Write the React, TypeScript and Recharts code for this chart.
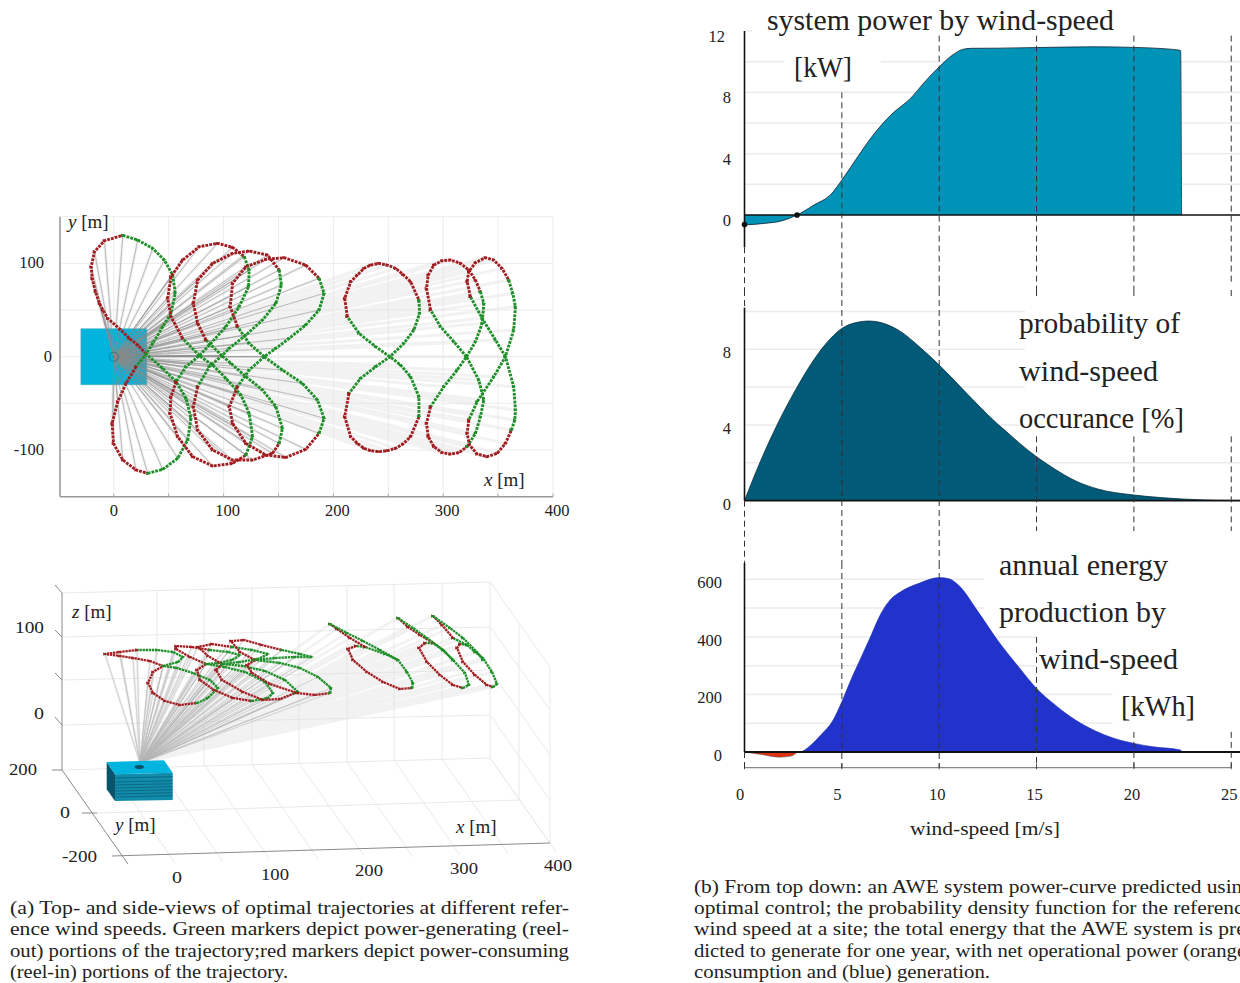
import React from 'react';
import { ScatterChart, Scatter, ComposedChart, Area, XAxis, YAxis, CartesianGrid, ReferenceLine, ReferenceArea, ReferenceDot } from 'recharts';

// ---------- top view: [x m, y m, phase] with phase 0 = reel-in, 1 = reel-out
const topLoop1 = [[29.4,2.9,1],[21.8,12.5,0],[14.2,19.6,0],[5.8,29.3,0],[-5.5,41,0],[-10,50,0],[-13,57,0],[-16.7,69.6,0],[-19.7,83.9,0],[-20.6,96.4,0],[-17.6,112.5,0],[-8.5,124.3,0],[8.2,130,0],[21.8,125,1],[35.5,116,1],[46,103.6,1],[53.6,87.5,1],[56,67.9,1],[52,46.4,1],[44.5,32,1],[35.5,14.3,1],[29.4,2.9,1],[20.3,-10.7,1],[11.2,-28.6,0],[3.6,-48.2,0],[-1.5,-71.4,0],[-0.3,-92.9,0],[8.2,-110.7,0],[20.3,-121.4,0],[30.9,-125,0],[44.5,-120.7,1],[58.2,-108.9,1],[67.3,-89.3,1],[70.3,-66,1],[65.8,-44.6,1],[56.7,-26.8,1],[44.5,-12.5,1],[29.4,2.9,1]];
const topLoop2 = [[77.9,1.1,1],[62.7,19.6,1],[52.1,42.9,0],[49.1,62.5,0],[52.1,85.7,0],[62.7,103.6,0],[77.9,117.9,0],[94.5,121.4,0],[108.2,117.1,0],[118.8,107.1,0],[123.3,92.9,1],[122.7,75,1],[114.2,53.6,1],[102.1,32.1,1],[87,12.5,1],[77.9,1.1,1],[65.8,-10.7,1],[56.7,-26.8,1],[52.1,-42.9,0],[51.2,-60.7,0],[58.2,-85.7,0],[71.8,-107.1,0],[90,-117.1,0],[108.2,-114.3,0],[120.3,-105.4,0],[126.4,-85.7,1],[123.3,-60.7,1],[115.8,-41.1,1],[102.1,-23.2,1],[90,-8.9,1],[77.9,1.1,1]];
const topLoop3 = [[98.5,1.1,1],[83.9,17.9,1],[76.4,35.7,0],[72.4,57.1,0],[76.4,82.1,0],[90,100,0],[108.2,110.7,0],[123.3,113.2,0],[140,108.9,0],[150.6,92.9,0],[152.7,76.8,1],[147.6,57.1,1],[135.5,39.3,1],[120.3,23.2,1],[105.2,8.9,1],[98.5,1.1,1],[87,-10.7,1],[76.4,-32.1,1],[72.4,-53.6,0],[76.4,-78.6,0],[90,-100,0],[108.2,-110.7,0],[126.4,-110.7,0],[144.5,-103.6,0],[150.6,-92.9,0],[153.6,-76.8,1],[147.6,-53.6,1],[135.5,-35.7,1],[120.3,-21.4,1],[106.7,-7.1,1],[98.5,1.1,1]];
const topLoop4 = [[137,0,1],[123.3,14.3,1],[112.7,32.1,1],[106,53.6,0],[108.2,78.6,0],[120.3,96.4,0],[138.5,104.3,0],[155.2,106.1,0],[174.8,98.2,0],[187,83.9,0],[191.5,67.9,1],[187,50,1],[174.8,33.9,1],[159.7,19.6,1],[147.6,8.9,1],[137,0,1],[123.3,-14.3,1],[112.7,-32.1,1],[105.2,-53.6,0],[108.2,-71.4,0],[120.3,-92.9,0],[138.5,-105.4,0],[156.7,-107.9,0],[174.8,-99.3,0],[187,-82.1,0],[191.5,-66.1,1],[185.5,-46.4,1],[171.8,-28.6,1],[153.6,-14.3,1],[137,0,1]];
const topLoop5 = [[251.5,0,1],[238.5,10.7,1],[223.3,25,1],[212.7,42.9,1],[210.3,62.5,0],[215.8,80.4,0],[221.8,87.5,0],[227.9,94.6,0],[233.9,98.2,0],[241.5,100,0],[249.1,98.2,0],[256.7,94.6,0],[263.3,88.2,0],[270.3,80.4,0],[277.9,60.7,0],[278.5,46.4,1],[273.3,28.6,1],[264.2,14.3,1],[251.5,0,1],[238.5,-10.7,1],[224.8,-23.2,1],[214.2,-39.3,1],[210.3,-64.3,0],[215.8,-85.7,0],[221.8,-92.9,0],[227.9,-98.2,0],[233.9,-100.7,0],[241.5,-101.8,0],[249.1,-100.7,0],[256.7,-98.2,0],[263.3,-93.6,0],[270.3,-85.7,0],[277.9,-64.3,0],[277.9,-42.9,1],[270.3,-21.4,1],[261.2,-8.9,1],[251.5,0,1]];
const topLoop6 = [[321.2,0,1],[309.7,16.1,1],[297.6,32.1,1],[288.5,50,1],[284.8,73.2,0],[286.4,87.5,0],[291.5,98.2,0],[299.1,102.9,0],[306.7,103.6,0],[315.8,100,0],[323.3,92.9,0],[329.4,82.1,0],[333.9,69.6,0],[337,57.1,1],[335.5,35.7,1],[329.4,16.1,1],[321.2,0,1],[312.7,-14.3,1],[300.6,-32.1,1],[288.5,-53.6,1],[284.8,-71.4,0],[286.4,-85.7,0],[291.5,-96.4,0],[299.1,-102.9,0],[306.7,-104.3,0],[314.2,-102.9,0],[321.8,-96.4,0],[329.4,-82.1,1],[333.9,-64.3,1],[337,-46.4,1],[332.4,-25,1],[321.2,0,1]];
const topLoop7 = [[356.7,0,1],[347.6,17.9,1],[335.5,41.1,1],[324.8,64.3,1],[321.8,80.4,0],[323.3,91.1,0],[329.4,100.7,0],[338.5,106.1,0],[346.1,103.6,0],[353.6,94.6,0],[359.7,82.1,0],[363.3,67.9,1],[365.8,53.6,1],[364.2,28.6,1],[356.7,0,1],[346.1,-21.4,1],[330.9,-48.2,1],[323.3,-67.9,1],[321.8,-82.1,0],[323.9,-94.6,0],[330.9,-104.3,0],[340,-107.1,0],[349.1,-103.6,0],[356.7,-92.9,0],[362.1,-78.6,0],[365.2,-67.9,1],[365.8,-57.1,1],[364.2,-32.1,1],[356.7,0,1]];
const topLoops = [topLoop1, topLoop2, topLoop3, topLoop4, topLoop5, topLoop6, topLoop7];

// ---------- side view, read in the projected picture plane: [u, v, phase]
const sideLoop1 = [[163,666,1],[178,662,1],[183,657,1],[173,652,1],[157,650,1],[137,650,1],[120,652,0],[105,654,0],[120,656,0],[133,658,0],[150,661,0],[163,666,0],[153,672,0],[148,683,0],[153,693,0],[165,701,0],[180,705,0],[197,703,0],[208,698,1],[218,688,1],[210,680,1],[193,673,1],[177,668,1],[163,666,1]];
const sideLoop2 = [[206,664,1],[190,657,0],[176,649,0],[176,646,0],[192,647,0],[210,650,0],[228,652,1],[240,655,1],[232,660,1],[218,663,1],[206,664,1],[197,670,0],[200,680,0],[214,690,0],[233,698,0],[252,701,0],[268,698,1],[273,693,1],[265,682,1],[245,672,1],[225,667,1],[206,664,1]];
const sideLoop3 = [[222,664,1],[208,656,0],[198,647,0],[212,644,0],[232,647,0],[252,650,1],[268,654,1],[258,659,1],[240,662,1],[222,664,1],[216,670,0],[222,680,0],[243,692,0],[263,700,0],[280,699,0],[295,693,0],[298,692,1],[285,680,1],[265,671,1],[243,666,1],[222,664,1]];
const sideLoop4 = [[255,660,1],[240,652,0],[231,641,0],[244,640,0],[262,645,0],[282,650,0],[300,654,1],[312,657,1],[295,657,1],[275,658,1],[255,660,1],[247,665,0],[252,673,0],[270,684,0],[297,693,0],[315,695,0],[330,693,0],[331,688,1],[318,677,1],[300,668,1],[280,663,1],[255,660,1]];
const sideLoop5 = [[365,647,1],[356,646,1],[348,649,0],[353,660,0],[367,672,0],[383,682,0],[400,689,0],[412,688,0],[413,683,1],[407,672,1],[398,660,1],[385,654,1],[365,647,1],[350,638,0],[337,629,0],[330,624,0],[347,633,1],[363,641,1],[380,650,1],[398,660,1]];
const sideLoop6 = [[433,643,1],[425,643,1],[419,648,0],[427,662,0],[440,675,0],[453,685,0],[463,688,0],[469,685,1],[465,673,1],[453,660,1],[443,650,1],[433,643,1],[420,635,0],[408,627,0],[398,618,0],[413,628,1],[427,638,1],[443,650,1],[453,660,1]];
const sideLoop7 = [[467,645,1],[460,644,1],[457,648,0],[463,662,0],[475,675,0],[487,685,0],[493,687,0],[497,684,1],[492,672,1],[483,658,1],[475,652,1],[467,645,1],[453,638,1],[442,625,0],[433,616,0],[450,628,1],[463,638,1],[477,652,1],[483,660,1]];
const sideLoops = [sideLoop1, sideLoop2, sideLoop3, sideLoop4, sideLoop5, sideLoop6, sideLoop7];
const sideStation = [{ x: 140, y: 763 }];

// ---------- wind-speed curves
const powerWind = [0,1,2,2.7,3.5,4.5,5,5.87,6.6,7.5,8.6,9.2,10,10.65,11.2,11.65,13,15,18,20,21.5,22.4,22.45];
const powerKw = [-0.65,-0.55,-0.35,0,0.6,1.43,2.28,3.9,5.2,6.5,7.7,8.6,9.66,10.4,10.8,10.87,10.88,10.92,10.97,10.93,10.85,10.73,0];
const probWind = [0,0.81,1.71,2.62,3.52,4.42,5,5.69,6.41,7.13,8.03,8.94,10,10.92,12,13,13.45,14.17,15,15.97,17.06,18.14,20,21.57,23.4,25,25.45];
const probPct = [0,2.06,4.08,5.85,7.38,8.57,9.1,9.4,9.49,9.37,8.93,8.17,7.17,6.2,5.05,4.05,3.65,3,2.32,1.65,1.02,0.62,0.3,0.15,0.05,0.02,0.02];
const energyWind = [0,1,1.8,2.4,2.8,3.5,4,4.5,5,5.5,6,6.5,7,7.5,8,9,10,10.5,11,12,13,14,15,16,17,18,19,20,21,22.4,22.45];
const energyGen = [0,0,0,0,0,30,65,105,175,256,330,405,480,530,556,587,606,602,579,487,388,302,221,161,111,74,47,30,18,7,0];
const energyLoss = [0,-10,-18,-14,0,0,0,0,0,0,0,0,0,0,0,0,0,0,0,0,0,0,0,0,0,0,0,0,0,0,0];
const xTickLabels = [0,5,10,15,20,25];
const powerTicks = [0,4,8,12];
const probTicks = [0,4,8];
const energyTicks = [0,200,400,600];

// ---------- text
const captionA = ['(a) Top- and side-views of optimal trajectories at different refer-','ence wind speeds.  Green markers depict power-generating (reel-','out) portions of the trajectory;red markers depict power-consuming','(reel-in) portions of the trajectory.'];
const captionB = ['(b) From top down:  an AWE system power-curve predicted using','optimal control; the probability density function for the reference','wind speed at a site; the total energy that the AWE system is pre-','dicted to generate for one year, with net operational power (orange)','consumption and (blue) generation.'];

const SERIF = '"Liberation Serif", serif';
const INK = '#222';
const RED = '#a11d21';
const GREEN = '#1f8f2a';

type P = number[];
const segments = (loop: P[]) => {
  const out: { phase: number; pts: { x: number; y: number }[] }[] = [];
  loop.forEach((p, i) => {
    const last = out[out.length - 1];
    if (!last || last.phase !== p[2]) {
      const pts = i > 0 ? [{ x: loop[i - 1][0], y: loop[i - 1][1] }] : [];
      out.push({ phase: p[2], pts: [...pts, { x: p[0], y: p[1] }] });
    } else last.pts.push({ x: p[0], y: p[1] });
  });
  return out;
};
const fan = (loops: P[][], ox: number, oy: number) => {
  const d: { x: number; y: number }[] = [];
  loops.forEach(l => l.forEach(p => { d.push({ x: ox, y: oy }); d.push({ x: p[0], y: p[1] }); }));
  return d;
};
const Tri = (props: any) => {
  const { cx, cy, fill } = props;
  if (cx == null) return null;
  return <path d={`M${cx - 1.8},${cy - 1.6}L${cx + 2},${cy}L${cx - 1.8},${cy + 1.6}Z`} fill={fill} />;
};
const NoDot = () => null;

const Loops = (loops: P[][], width: number, dash: string, key: string) =>
  loops.flatMap((l, i) => segments(l).map((s, j) => (
    <Scatter key={`${key}${i}-${j}`} data={s.pts} fill={s.phase ? GREEN : RED} shape={Tri} isAnimationActive={false}
      line={{ stroke: s.phase ? GREEN : RED, strokeWidth: width, strokeDasharray: dash }} lineType="joint" lineJointType="catmullRom" />
  )));

const TopXTick = (p: any) => {
  const v = p.payload.value;
  return (
    <g>
      <line x1={p.x} x2={p.x} y1={496.7 - 190} y2={496.7 - 190 - 3} stroke="#aaa" />
      {v % 100 === 0 ? <text x={p.x + (v === 0 ? 0 : 4)} y={516 - 190} textAnchor="middle" fontFamily={SERIF} fontSize={16.5} fill={INK}>{v}</text> : null}
    </g>
  );
};
const TopYTick = (p: any) => {
  const v = p.payload.value;
  return v % 100 === 0 ? <text x={v === 0 ? 52 : 44} y={p.y + 5} textAnchor="end" fontFamily={SERIF} fontSize={16.5} fill={INK}>{v}</text> : <g />;
};
const TopView = () => (
  <div style={{ position: 'absolute', left: 0, top: 190 }}>
    <ScatterChart width={600} height={340} margin={{ left: 59, right: 47, top: 26.7, bottom: 32.3 }}>
      <CartesianGrid stroke="#ececec" strokeWidth={1} />
      <XAxis type="number" dataKey="x" height={1} domain={[-49, 400]} allowDataOverflow ticks={[0,50,100,150,200,250,300,350,400]} stroke="#999" strokeWidth={1.5} tickLine={false} tick={TopXTick} />
      <YAxis type="number" dataKey="y" width={1} domain={[-150, 150]} allowDataOverflow ticks={[-150,-100,-50,0,50,100,150]} stroke="#999" strokeWidth={1.5} tickLine={false} tick={TopYTick} />
      <Scatter zIndex={50} data={fan(topLoops, 0, 0)} shape={NoDot} isAnimationActive={false} line={{ stroke: '#e2e2e2', strokeWidth: 3, strokeOpacity: 0.45 }} lineType="joint" />
      <ReferenceArea x1={-30} x2={30} y1={-30} y2={30} fill="#00b4de" fillOpacity={1} stroke="#4aa" strokeWidth={0.5} zIndex={60} />
      <Scatter data={fan(topLoops.slice(0, 4), 0, 0)} shape={NoDot} isAnimationActive={false} line={{ stroke: '#8c8c8c', strokeWidth: 0.7, strokeOpacity: 0.45 }} lineType="joint" />
      <ReferenceDot x={0} y={0} r={4.6} fill="none" stroke="#0a6f8a" strokeWidth={0.7} />
      {Loops(topLoops, 2.9, '2.8 1.1', 't')}
    </ScatterChart>
  </div>
);

const backX = [109,157,205,252,299,347,394,442,490];
const frontX = [175,223,270,318,365,413,460,508,556];
const backFrontY = [767,766,765,764,763,762,760,759,758];
const frontY = [863,862,860,859,857,857,855,853,852];
const frameLight: number[][] = [
  [62,593,490,582],[62,637,490,627],[62,680,490,670],[62,725,490,715],[62,770,490,758],
  [157,590,157,767],[204,589,204,766],[252,588,252,765],[299,587,299,763],[347,586,347,762],[394,584,394,760],[442,583,442,759],[490,582,490,758],
  [490,582,550,667],[490,627,550,710],[490,670,550,755],[490,715,550,800],[490,758,550,843],[550,667,550,843],[519,625,519,800],
  [97,813,520,800],
  ...backX.map((b, i) => [b, backFrontY[i], frontX[i], frontY[i]]),
];
const frameDark: number[][] = [
  [62,593,62,770],[62,770,128,864],[112,856,550,843],
  [55,585,62,593],[55,630,62,637],[55,673,62,680],[55,717,62,725],[52,770,62,770],[82,813,97,813],
];
const Station = (p: any) => {
  const { cx, cy } = p;
  const o = (dx: number, dy: number) => `${cx + dx},${cy + dy}`;
  const stripes = [4, 8, 11, 14, 17, 20, 23];
  return (
    <g>
      <polygon points={`${o(-33.3,-1)} ${o(-25,11.3)} ${o(-25,38)} ${o(-33.3,26.3)}`} fill="#07546b" />
      <polygon points={`${o(-25,11.3)} ${o(32.7,9.7)} ${o(32.7,37)} ${o(-25,38)}`} fill="#128cab" />
      {stripes.map(s => <line key={s} x1={cx - 25} x2={cx + 32.7} y1={cy + 11 + s} y2={cy + 9.7 + s} stroke="#0a5f78" strokeWidth={0.8} />)}
      <polygon points={`${o(-33.3,-1)} ${o(24,-2.7)} ${o(32.7,9.7)} ${o(-25,11.3)}`} fill="#00b4de" />
      <ellipse cx={cx - 0.7} cy={cy + 4} rx={4.6} ry={1.9} fill="#0a4f63" />
    </g>
  );
};
const SideView = () => (
  <div style={{ position: 'absolute', left: 0, top: 570 }}>
    <ScatterChart width={580} height={320} margin={{ left: 0, right: 0, top: 0, bottom: 0 }}>
      <XAxis type="number" dataKey="x" hide domain={[0, 580]} allowDataOverflow />
      <YAxis type="number" dataKey="y" hide domain={[570, 890]} reversed allowDataOverflow />
      {frameLight.map((s, i) => <ReferenceLine key={'l' + i} segment={[{ x: s[0], y: s[1] }, { x: s[2], y: s[3] }]} stroke="#e9e9e9" strokeWidth={1} />)}
      {frameDark.map((s, i) => <ReferenceLine key={'d' + i} segment={[{ x: s[0], y: s[1] }, { x: s[2], y: s[3] }]} stroke="#8a8a8a" strokeWidth={1} />)}
      <Scatter data={fan(sideLoops, sideStation[0].x, sideStation[0].y)} shape={NoDot} isAnimationActive={false} line={{ stroke: '#e2e2e2', strokeWidth: 2.6, strokeOpacity: 0.45 }} lineType="joint" />
      <Scatter data={fan(sideLoops.slice(0, 4), sideStation[0].x, sideStation[0].y)} shape={NoDot} isAnimationActive={false} line={{ stroke: '#b5b5b5', strokeWidth: 0.7, strokeOpacity: 0.45 }} lineType="joint" />
      <Scatter data={sideStation} shape={Station} isAnimationActive={false} />
      {Loops(sideLoops, 2.3, '2.4 0.7', 's')}
    </ScatterChart>
  </div>
);

const YTick = (anchorX: (v: number) => number, dy: number) => (p: any) => (
  <text x={anchorX(p.payload.value)} y={p.y + dy} textAnchor="end" fontFamily={SERIF} fontSize={16.5} fill={INK}>{p.payload.value}</text>
);
const dash = (x: number, y1: number, y2: number, key: string) => (
  <ReferenceLine key={key} segment={[{ x, y: y1 }, { x, y: y2 }]} stroke="#333" strokeWidth={1} strokeDasharray="6 4" ifOverflow="visible" zIndex={900} />
);
const grid = (y: number, x1: number, x2: number, key: string) => (
  <ReferenceLine key={key} segment={[{ x: x1, y }, { x: x2, y }]} stroke="#ebebeb" strokeWidth={1.5} zIndex={-50} />
);
const solid = (a: number[], b: number[], w: number, key: string) => (
  <ReferenceLine key={key} segment={[{ x: a[0], y: a[1] }, { x: b[0], y: b[1] }]} stroke="#111" strokeWidth={w} ifOverflow="visible" zIndex={800} />
);
const XMAX = 25.45;

const powerData = powerWind.map((x, i) => ({ x, v: powerKw[i] }));
const PowerPanel = () => (
  <div style={{ position: 'absolute', left: 0, top: 0 }}>
    <ComposedChart width={1240} height={300} data={powerData} margin={{ left: 743.5, right: 0, top: 31, bottom: 10 }}>
      <XAxis type="number" dataKey="x" hide domain={[0, XMAX]} allowDataOverflow />
      <YAxis type="number" width={1} domain={[-4.89, 12]} allowDataOverflow ticks={powerTicks} axisLine={false} tickLine={false} tick={YTick(v => (v === 12 ? 725 : 731), 11)} />
      {grid(12, 0, 0.4, 'g12')}{grid(10, 0, 2, 'g10a')}{grid(10, 7, XMAX, 'g10b')}
      {grid(8, 0, XMAX, 'g8')}{grid(6, 0, XMAX, 'g6')}{grid(4, 0, XMAX, 'g4')}{grid(2, 0, XMAX, 'g2')}
      <Area type="monotone" dataKey="v" baseValue={0} fill="#0093b8" fillOpacity={1} stroke="#123" strokeWidth={0.8} isAnimationActive={false} dot={false} />
      {dash(0, -2.1, -4.89, 'a0')}{dash(5, 8, -4.89, 'a5')}{dash(10, 11.7, -4.89, 'a10')}{dash(15, 11.7, -4.89, 'a15')}{dash(20, 11.7, -4.89, 'a20')}{dash(25, 11.7, -4.6, 'a25')}
      {solid([0, 0], [XMAX, 0], 1.6, 'base')}{solid([0, 12], [0, -2.1], 1.6, 'axis')}
      <ReferenceDot x={0} y={-0.62} r={2.8} fill="#111" stroke="none" zIndex={900} />
      <ReferenceDot x={2.7} y={0} r={2.8} fill="#111" stroke="none" zIndex={900} />
    </ComposedChart>
  </div>
);

const probData = probWind.map((x, i) => ({ x, v: probPct[i] }));
const ProbPanel = () => (
  <div style={{ position: 'absolute', left: 0, top: 290 }}>
    <ComposedChart width={1240} height={273} data={probData} margin={{ left: 743.5, right: 0, top: 0, bottom: 0 }}>
      <XAxis type="number" dataKey="x" hide domain={[0, XMAX]} allowDataOverflow />
      <YAxis type="number" width={1} domain={[-3.29, 11.13]} allowDataOverflow ticks={probTicks} axisLine={false} tickLine={false} tick={YTick(() => 731, 9)} />
      {grid(10, 0, 14.4, 'g10')}{grid(8, 0, 14.4, 'g8')}{grid(6, 0, 14.4, 'g6')}{grid(4, 0, 14.4, 'g4')}{grid(2, 0, XMAX, 'g2')}
      <Area type="monotone" dataKey="v" baseValue={0} fill="#005a78" fillOpacity={1} stroke="#0a3040" strokeWidth={0.8} isAnimationActive={false} dot={false} />
      {dash(0, 11.13, 10.1, 'b0t')}{dash(0, 0, -3.29, 'b0')}{dash(5, 11.13, -3.29, 'b5')}{dash(10, 11.13, -3.29, 'b10')}
      {dash(15, 11.13, 10.6, 'b15t')}{dash(20, 11.13, 10.6, 'b20t')}{dash(25, 11.13, 10.6, 'b25t')}
      {dash(15, 3.4, -1.6, 'b15')}{dash(20, 3.4, -1.6, 'b20')}{dash(25, 3.4, -1.6, 'b25')}
      {solid([0, 0], [XMAX, 0], 1.8, 'base')}{solid([0, 10.2], [0, 0], 1.6, 'axis')}
    </ComposedChart>
  </div>
);

const energyData = energyWind.map((x, i) => ({ x, gen: energyGen[i], loss: energyLoss[i] }));
const EnergyXTick = (p: any) => (
  <text x={p.x - (p.payload.value < 10 ? 4.5 : 2)} y={800 - 563} textAnchor="middle" fontFamily={SERIF} fontSize={16.5} fill={INK}>{p.payload.value}</text>
);
const EnergyPanel = () => (
  <div style={{ position: 'absolute', left: 0, top: 563 }}>
    <ComposedChart width={1240} height={260} data={energyData} margin={{ left: 743.5, right: 0, top: 0, bottom: 54.3 }}>
      <XAxis type="number" dataKey="x" height={1} domain={[0, XMAX]} allowDataOverflow ticks={xTickLabels} tick={EnergyXTick} tickLine={false} axisLine={false} />
      <YAxis type="number" width={1} domain={[-54.5, 656.7]} allowDataOverflow ticks={energyTicks} axisLine={false} tickLine={false} tick={YTick(() => 722, 9)} />
      {[600,500,400,300].map(v => grid(v, 0, 12.3, 'g' + v))}{grid(400, 12, 15, 'g400b')}{grid(300, 12, 15, 'g300b')}
      {[200,100].map(v => grid(v, 0, 18.9, 'g' + v))}
      <Area type="monotone" dataKey="gen" baseValue={0} fill="#2233cc" fillOpacity={1} stroke="#1a2aa8" strokeWidth={0.6} isAnimationActive={false} dot={false} />
      <Area type="monotone" dataKey="loss" baseValue={0} fill="#e0300e" fillOpacity={1} stroke="#555" strokeWidth={0.5} isAnimationActive={false} dot={false} />
      {dash(0, 0, -54.5, 'c0')}{dash(5, 656.7, -54.5, 'c5')}{dash(10, 656.7, -54.5, 'c10')}{dash(15, 400, -54.5, 'c15')}{dash(20, 70, -54.5, 'c20')}{dash(25, 70, -54.5, 'c25')}
      {solid([0, 656.7], [0, 0], 1.6, 'axis')}{solid([0, 0], [XMAX, 0], 1.8, 'base')}
      <ReferenceLine segment={[{ x: 0, y: -54.5 }, { x: 25, y: -54.5 }]} stroke="#888" strokeWidth={1.2} zIndex={700} />
      {xTickLabels.map(v => <ReferenceLine key={'t' + v} segment={[{ x: v, y: -40 }, { x: v, y: -60 }]} stroke="#555" strokeWidth={1} ifOverflow="visible" zIndex={700} />)}
    </ComposedChart>
  </div>
);

const Fit = ({ x, y, w, size, children, anchor }: any) => (
  <text x={x} y={y} textLength={w} lengthAdjust="spacingAndGlyphs" fontSize={size} fontFamily={SERIF} fill={INK} textAnchor={anchor}>{children}</text>
);
const AxisName = ({ x, y, v }: any) => (
  <text x={x} y={y} fontSize={19} fontFamily={SERIF} fill={INK} xmlSpace="preserve"><tspan fontStyle="italic">{v}</tspan> [m]</text>
);
const Overlay = () => (
  <svg width={1240} height={983} style={{ position: 'absolute', left: 0, top: 0, pointerEvents: 'none' }}>
    <AxisName x={68} y={228} v="y" /><AxisName x={484} y={486} v="x" />
    <AxisName x={72} y={618} v="z" /><AxisName x={115} y={831} v="y" /><AxisName x={456} y={833} v="x" />
    <Fit x={15} y={633} w={29} size={16}>100</Fit>
    <Fit x={34} y={719} w={10} size={16}>0</Fit>
    <Fit x={9} y={775} w={28} size={16}>200</Fit>
    <Fit x={60} y={818} w={10} size={16}>0</Fit>
    <Fit x={62} y={862} w={35} size={16}>-200</Fit>
    <Fit x={172} y={883} w={10} size={16}>0</Fit>
    <Fit x={261} y={880} w={28} size={16}>100</Fit>
    <Fit x={355} y={876} w={28} size={16}>200</Fit>
    <Fit x={450} y={874} w={28} size={16}>300</Fit>
    <Fit x={544} y={871} w={28} size={16}>400</Fit>

    <Fit x={767} y={30} w={347} size={29}>system power by wind-speed</Fit>
    <Fit x={794} y={77} w={58} size={29}>[kW]</Fit>
    <Fit x={1019} y={333} w={161} size={29}>probability of</Fit>
    <Fit x={1019} y={381} w={139} size={29}>wind-speed</Fit>
    <Fit x={1019} y={428} w={165} size={29}>occurance [%]</Fit>
    <Fit x={999} y={575} w={169} size={29}>annual energy</Fit>
    <Fit x={999} y={622} w={167} size={29}>production by</Fit>
    <Fit x={1039} y={669} w={139} size={29}>wind-speed</Fit>
    <Fit x={1121} y={716} w={74} size={29}>[kWh]</Fit>
    <Fit x={910} y={835} w={150} size={18}>wind-speed [m/s]</Fit>

    {captionA.map((t, i) => <Fit key={t} x={10} y={[914, 935, 957, 978][i]} w={i < 3 ? 559 : 278} size={18}>{t}</Fit>)}
    {captionB.map((t, i) => <Fit key={t} x={694} y={[893, 914, 935, 957, 978][i]} w={i < 4 ? 559 : 296} size={18}>{t}</Fit>)}
  </svg>
);

export default function App() {
  return (
    <div style={{ position: 'absolute', left: 0, top: 0, width: 1240, height: 983, overflow: 'hidden', background: '#fff' }}>
      <TopView />
      <SideView />
      <PowerPanel />
      <ProbPanel />
      <EnergyPanel />
      <Overlay />
    </div>
  );
}
